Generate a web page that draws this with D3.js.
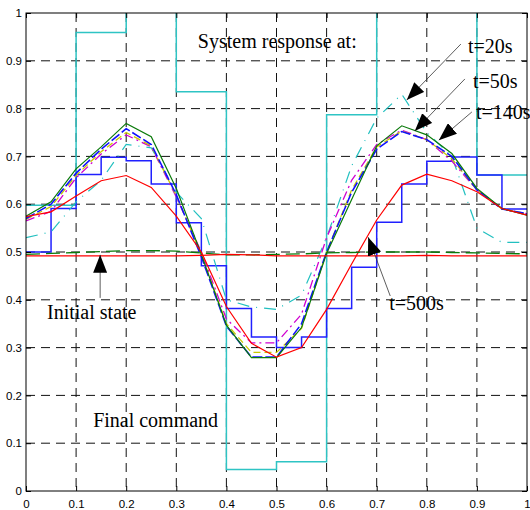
<!DOCTYPE html>
<html>
<head>
<meta charset="utf-8">
<script src="https://cdn.jsdelivr.net/npm/d3@7"></script>
<style>
  body { margin: 0; background: #fff; }
  svg { display: block; }
</style>
</head>
<body>
<div id="chart"></div>
<script>
// sample positions (every 0.05)
var xs = [0, 0.05, 0.1, 0.15, 0.2, 0.25, 0.3, 0.35, 0.4, 0.45, 0.5, 0.55, 0.6, 0.65, 0.7, 0.75, 0.8, 0.85, 0.9, 0.95, 1];

// final command (step, held over 0.1), values above 1 run off the top
var cmdX = [0, 0.1, 0.2, 0.3, 0.4, 0.5, 0.6, 0.7, 0.8, 0.9, 1];
var cmdVals = [0.598, 0.959, 1.1, 0.835, 0.045, 0.061, 0.787, 1.1, 1.1, 0.661, 0.661];

// blue staircase (held over 0.05)
var stairVals = [0.5, 0.591, 0.662, 0.698, 0.691, 0.642, 0.561, 0.471, 0.382, 0.322, 0.3, 0.322, 0.382, 0.468, 0.562, 0.642, 0.69, 0.699, 0.661, 0.59, 0.59];

// system responses
var resp20 = [0.53, 0.542, 0.605, 0.65, 0.725, 0.718, 0.625, 0.57, 0.40, 0.385, 0.38, 0.41, 0.53, 0.68, 0.78, 0.83, 0.75, 0.70, 0.55, 0.52, 0.52];
var resp50 = [0.565, 0.585, 0.655, 0.705, 0.745, 0.72, 0.615, 0.5, 0.36, 0.31, 0.31, 0.37, 0.53, 0.65, 0.725, 0.755, 0.735, 0.69, 0.63, 0.59, 0.58];
var respYel = [0.568, 0.595, 0.66, 0.71, 0.75, 0.722, 0.618, 0.495, 0.35, 0.29, 0.29, 0.34, 0.5, 0.63, 0.72, 0.753, 0.735, 0.695, 0.63, 0.59, 0.58];
var resp140 = [0.57, 0.6, 0.665, 0.715, 0.758, 0.725, 0.62, 0.49, 0.345, 0.28, 0.28, 0.35, 0.5, 0.625, 0.715, 0.752, 0.735, 0.7, 0.63, 0.59, 0.58];
var respGreen = [0.575, 0.605, 0.674, 0.72, 0.769, 0.741, 0.633, 0.495, 0.347, 0.279, 0.279, 0.342, 0.497, 0.61, 0.722, 0.764, 0.745, 0.706, 0.633, 0.591, 0.577];
var resp500 = [0.574, 0.584, 0.617, 0.649, 0.66, 0.635, 0.575, 0.5, 0.386, 0.309, 0.28, 0.3, 0.38, 0.475, 0.567, 0.64, 0.663, 0.649, 0.626, 0.591, 0.577];

// initial state lines
var initGreen = [0.495, 0.497, 0.499, 0.501, 0.503, 0.503, 0.502, 0.498, 0.494, 0.494, 0.495, 0.496, 0.498, 0.499, 0.5, 0.5, 0.5, 0.499, 0.498, 0.497, 0.496];
var initRed = [0.492, 0.492, 0.492, 0.492, 0.492, 0.492, 0.492, 0.493, 0.495, 0.494, 0.492, 0.492, 0.492, 0.492, 0.492, 0.492, 0.493, 0.492, 0.492, 0.492, 0.492];

var tickVals = [0, 0.1, 0.2, 0.3, 0.4, 0.5, 0.6, 0.7, 0.8, 0.9, 1];
var tickLabels = ["0", "0.1", "0.2", "0.3", "0.4", "0.5", "0.6", "0.7", "0.8", "0.9", "1"];

// annotations: text, text pos, arrow from -> to (data units)
var notes = [
  { text: "System response at:", tx: 0.343, ty: 0.927 },
  { text: "t=20s",  tx: 0.882, ty: 0.916, x1: 0.868, y1: 0.935, x2: 0.760, y2: 0.818 },
  { text: "t=50s",  tx: 0.892, ty: 0.843, x1: 0.876, y1: 0.862, x2: 0.776, y2: 0.753 },
  { text: "t=140s", tx: 0.898, ty: 0.778, x1: 0.890, y1: 0.793, x2: 0.824, y2: 0.734 },
  { text: "t=500s", tx: 0.725, ty: 0.379, x1: 0.727, y1: 0.408, x2: 0.683, y2: 0.531 },
  { text: "Initial state", tx: 0.042, ty: 0.359, x1: 0.148, y1: 0.404, x2: 0.148, y2: 0.494 },
  { text: "Final command", tx: 0.134, ty: 0.134 }
];

var margin = {top: 13, right: 3, bottom: 19, left: 26},
    width = 530 - margin.left - margin.right,
    height = 510 - margin.top - margin.bottom;

var svg = d3.select("#chart")
  .append("svg")
  .attr("width", 530)
  .attr("height", 510)
  .append("g")
  .attr("transform", "translate(" + margin.left + "," + margin.top + ")");

var x = d3.scaleLinear().domain([0, 1]).range([0, width]);
var y = d3.scaleLinear().domain([0, 1]).range([height, 0]);

svg.append("clipPath").attr("id", "clip")
  .append("rect").attr("width", width).attr("height", height);

// grid
svg.append("g").selectAll("line").data(tickVals.slice(1, -1)).join("line")
  .attr("x1", d => x(d)).attr("x2", d => x(d))
  .attr("y1", 0).attr("y2", height)
  .attr("stroke", "#111").attr("stroke-width", 1).attr("stroke-dasharray", "9,6");
svg.append("g").selectAll("line").data(tickVals.slice(1, -1)).join("line")
  .attr("y1", d => y(d)).attr("y2", d => y(d))
  .attr("x1", 0).attr("x2", width)
  .attr("stroke", "#111").attr("stroke-width", 1).attr("stroke-dasharray", "9,6");

var plot = svg.append("g").attr("clip-path", "url(#clip)");

function series(vals, xv, color, w, dash, curve) {
  var line = d3.line()
    .x((d, i) => x(xv[i]))
    .y(d => y(d))
    .curve(curve || d3.curveLinear);
  plot.append("path")
    .datum(vals)
    .attr("fill", "none")
    .attr("stroke", color)
    .attr("stroke-width", w)
    .attr("stroke-dasharray", dash || null)
    .attr("d", line);
}

series(cmdVals, cmdX, "#2ec4c4", 1.5, null, d3.curveStepAfter);
series(stairVals, xs, "#2020ff", 1.5, null, d3.curveStepAfter);
series(resp20, xs, "#22c0c0", 1.2, "12,7,1,7");
series(resp50, xs, "#d000d0", 1.3, "9,4,2,4");
series(respYel, xs, "#c8c800", 1.3, "7,4");
series(resp140, xs, "#1010ff", 1.6, "10,3");
series(respGreen, xs, "#0a7a0a", 1.2);
series(resp500, xs, "#ff0000", 1.2);
series(initGreen, xs, "#0a7a0a", 1.3, "14,6");
series(initRed, xs, "#ff0000", 1.3);

// frame
svg.append("rect").attr("width", width).attr("height", height)
  .attr("fill", "none").attr("stroke", "#000").attr("stroke-width", 1);

// axes with inward ticks
svg.append("g")
  .attr("transform", "translate(0," + height + ")")
  .call(d3.axisBottom(x).tickValues(tickVals).tickFormat((d, i) => tickLabels[i]).tickSize(-5).tickPadding(9));
svg.append("g")
  .call(d3.axisLeft(y).tickValues(tickVals).tickFormat((d, i) => tickLabels[i]).tickSize(-5).tickPadding(4));
svg.append("g").call(d3.axisTop(x).tickValues(tickVals).tickFormat("").tickSize(-5));
svg.append("g").attr("transform", "translate(" + width + ",0)")
  .call(d3.axisRight(y).tickValues(tickVals).tickFormat("").tickSize(-5));
svg.selectAll(".domain").remove();
svg.selectAll(".tick text")
  .attr("font-family", "Liberation Sans, Arial, sans-serif")
  .attr("font-size", 11.5)
  .attr("fill", "#000");

// arrows
svg.append("defs").append("marker")
  .attr("id", "head")
  .attr("viewBox", "0 0 18 14")
  .attr("refX", 18).attr("refY", 7)
  .attr("markerWidth", 18).attr("markerHeight", 14)
  .attr("markerUnits", "userSpaceOnUse")
  .attr("orient", "auto")
  .append("path").attr("d", "M0,0 L18,7 L0,14 Z").attr("fill", "#000");

svg.append("g").selectAll("line").data(notes.filter(n => n.x1 != null)).join("line")
  .attr("x1", d => x(d.x1)).attr("y1", d => y(d.y1))
  .attr("x2", d => x(d.x2)).attr("y2", d => y(d.y2))
  .attr("stroke", "#333").attr("stroke-width", 0.8)
  .attr("marker-end", "url(#head)");

svg.append("g").selectAll("text").data(notes).join("text")
  .attr("x", d => x(d.tx)).attr("y", d => y(d.ty))
  .attr("font-family", "Liberation Serif, Times New Roman, serif")
  .attr("font-size", 20)
  .attr("fill", "#000")
  .text(d => d.text);
</script>
</body>
</html>
